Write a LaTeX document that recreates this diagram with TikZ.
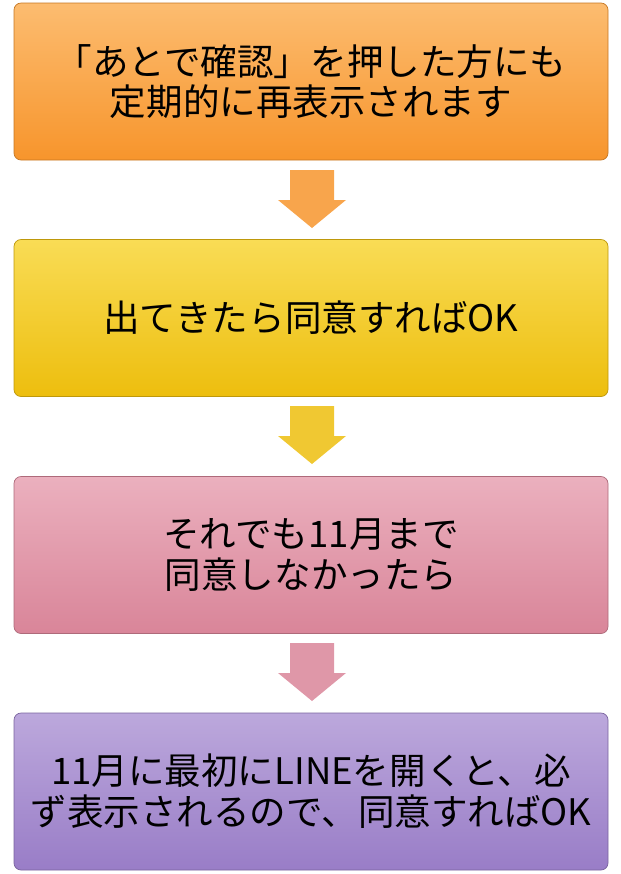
\documentclass[tikz,border=0pt]{standalone}
\usepackage{fontspec}
\setmainfont{Noto Sans CJK JP}
\usetikzlibrary{positioning}
\definecolor{orgtop}{HTML}{FCBC70}
\definecolor{orgbot}{HTML}{F7952C}
\definecolor{yeltop}{HTML}{F9DC55}
\definecolor{yelbot}{HTML}{EDBE0E}
\definecolor{pnktop}{HTML}{EBB0BE}
\definecolor{pnkbot}{HTML}{D98599}
\definecolor{purtop}{HTML}{BCA8DC}
\definecolor{purbot}{HTML}{997DC7}

\begin{document}
\begin{tikzpicture}[x=0.05cm, y=-0.05cm,
        stepbox/.style={rounded corners=10pt, draw=#1bot!80!black, line width=1pt, top color=#1top, bottom color=#1bot,
            minimum width=594*0.05cm, minimum height=157*0.05cm, align=center,
            font=\fontsize{52}{58}\selectfont, inner sep=0pt},
]
        \useasboundingbox (0,0) rectangle (620,874);
        \node[stepbox=org] (confirm) at (311,81.5) {「あとで確認」を押した方にも\\定期的に再表示されます};
        \node[stepbox=yel] (agree) at (311,318) {出てきたら同意すればOK};
        \node[stepbox=pnk] (still) at (311,555) {それでも11月まで\\同意しなかったら};
        \node[stepbox=pur] (line) at (311,791.5) {11月に最初にLINEを開くと、必\\ず表示されるので、同意すればOK};

        % down arrows between the boxes
        \foreach \y/\c in {170/orgbot, 406/yelbot, 643/pnkbot} {
            \fill[\c!85!white] (290,\y) -- (334,\y) -- (334,\y+30) -- (346,\y+30)
                -- (312,\y+58) -- (278,\y+30) -- (290,\y+30) -- cycle;
        }
\end{tikzpicture}
\end{document}
